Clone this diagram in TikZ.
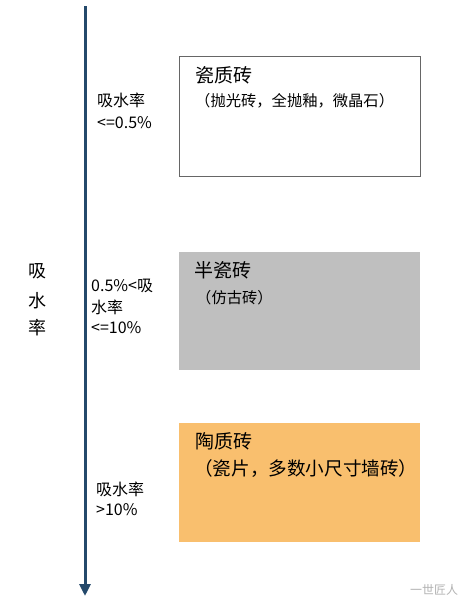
\documentclass[tikz,border=0pt]{standalone}
\usepackage{fontspec}
\setmainfont{Noto Sans CJK SC}
\usetikzlibrary{arrows.meta,positioning}
\definecolor{axisblue}{HTML}{24496B}
\definecolor{tilegray}{HTML}{BFBFBF}
\definecolor{tileorange}{HTML}{F9BF6E}
\tikzstyle{tile} = [minimum width=241pt, minimum height=120pt, anchor=north west, inner sep=0pt]
\tikzstyle{title} = [anchor=base west, inner sep=0pt, font=\fontsize{19}{22}\selectfont]
\tikzstyle{sub} = [anchor=base west, inner sep=0pt, font=\fontsize{15.3}{18}\selectfont]
\tikzstyle{rate} = [anchor=base west, inner sep=0pt, font=\fontsize{16}{18}\selectfont]

\begin{document}
\begin{tikzpicture}[x=1pt,y=-1pt]
\useasboundingbox (0,0) rectangle (460,606);

% axis
\coordinate (top) at (85,6);
\coordinate (bottom) at (85,596);
\draw[axisblue, line width=3pt, -{Triangle[length=12pt,width=11pt]}] (top) -- (bottom);

% vertical label
\node[font=\fontsize{18}{20}\selectfont, anchor=base, inner sep=0pt] (v1) at (37,277) {吸};
\node[font=\fontsize{18}{20}\selectfont, anchor=base, inner sep=0pt] (v2) at (37,307) {水};
\node[font=\fontsize{18}{20}\selectfont, anchor=base, inner sep=0pt] (v3) at (37,334) {率};

% tiles
\node[tile, draw=gray!80!black, fill=white] (b1) at (179,56) {};
\node[tile, fill=tilegray, minimum height=118pt] (b2) at (179,252) {};
\node[tile, fill=tileorange, minimum height=119pt] (b3) at (179,423) {};

\node[title] (t1) at (195,82) {瓷质砖};
\node[sub] (s1) at (195,106) {（抛光砖，全抛釉，微晶石）};
\node[title] (t2) at (194,277) {半瓷砖};
\node[sub] (s2) at (196,303) {（仿古砖）};
\node[title] (t3) at (195,448) {陶质砖};
\node[sub, font=\fontsize{18.6}{20}\selectfont] (s3) at (194,475) {（瓷片，多数小尺寸墙砖）};

% rates
\node[rate] (r1a) at (97,106) {吸水率};
\node[rate] (r1b) at (97,128) {<=0.5\%};
\node[rate] (r2a) at (91,291) {0.5\%<吸};
\node[rate] (r2b) at (91,313) {水率};
\node[rate] (r2c) at (91,333) {<=10\%};
\node[rate] (r3a) at (96,495) {吸水率};
\node[rate] (r3b) at (96,515) {>10\%};

% watermark
\node[anchor=base west, inner sep=0pt, text=gray!60, font=\fontsize{12}{14}\selectfont] (wm) at (410,594) {一世匠人};
\end{tikzpicture}
\end{document}
